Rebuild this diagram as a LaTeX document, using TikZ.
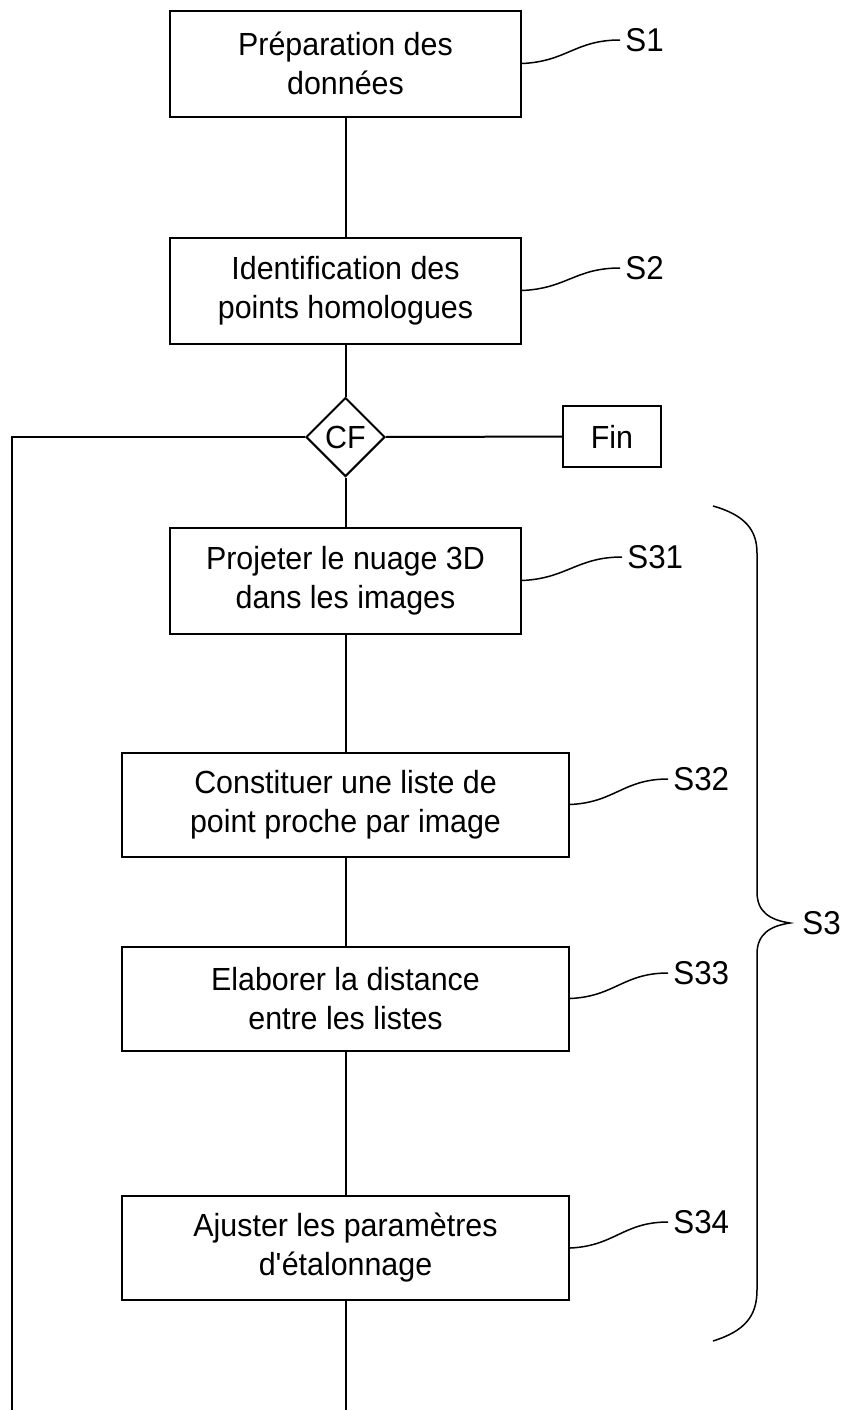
\documentclass[tikz,border=0pt]{standalone}
\usepackage{fontspec}
\setmainfont{Liberation Sans}[FakeStretch=0.95]
\usetikzlibrary{shapes.geometric}

\tikzset{
  stepbox/.style={draw, line width=1pt, align=center, inner sep=0pt,
    font=\fontsize{16}{19.5}\selectfont},
  smallbox/.style={stepbox, minimum width=175.5pt, minimum height=53pt},
  widebox/.style={stepbox, minimum width=223.5pt, minimum height=52pt},
  tag/.style={anchor=west, inner sep=2.5pt, font=\fontsize{16.5}{19}\selectfont},
  link/.style={line width=1pt},
  squiggle/.style={line width=0.75pt}
}

\begin{document}
\begin{tikzpicture}[x=0.5pt, y=-0.5pt]
        \useasboundingbox (0,0) rectangle (844,1410);

        % Steps
        \node[smallbox] (s1) at (345.5,63.5) {Préparation des\\données};
        \node[smallbox] (s2) at (345.5,290.5) {Identification des\\points homologues};
        \node[draw, diamond, line width=1pt, aspect=1, inner sep=0pt, minimum size=39.5pt,
          font=\fontsize{16}{19}\selectfont] (cf) at (345.5,437) {CF};
        \node[stepbox, minimum width=49pt, minimum height=30.5pt] (fin) at (612,436.5) {Fin};
        \node[smallbox] (s31) at (345.5,580.5) {Projeter le nuage 3D\\dans les images};
        \node[widebox] (s32) at (345.5,804.5) {Constituer une liste de\\point proche par image};
        \node[widebox] (s33) at (345.5,998.5) {Elaborer la distance\\entre les listes};
        \node[widebox] (s34) at (345.5,1248) {Ajuster les paramètres\\d\textquotesingle étalonnage};

        % Loose ends at the bottom
        \coordinate (down) at (345.5,1410);
        \coordinate (back) at (12,1410);

        % Flow
        \draw[link] (s1) -- (s2);
        \draw[link] (s2) -- (cf);
        \draw[link] (cf) -- (fin);
        \draw[link] (cf) -- (s31);
        \draw[link] (s31) -- (s32);
        \draw[link] (s32) -- (s33);
        \draw[link] (s33) -- (s34);
        \draw[link] (s34) -- (down);
        \draw[link] (cf.west) -| (back);

        % Step labels
        \node[tag] (t1) at (620,40) {S1};
        \node[tag] (t2) at (620,268) {S2};
        \node[tag] (t31) at (622,557) {S31};
        \node[tag] (t32) at (668,779) {S32};
        \node[tag] (t33) at (668,973) {S33};
        \node[tag] (t34) at (668,1222) {S34};
        \node[tag] (t3) at (797,923) {S3};
        \coordinate (cusp) at (790,923);

        \foreach \b/\t in {s1/t1, s2/t2, s31/t31, s32/t32, s33/t33, s34/t34}
          \draw[squiggle] (\b.east) .. controls +(45,-2) and +(-45,0) .. (\t.west);

        % Brace around S31..S34
        \draw[squiggle] (713,506) .. controls (745,515) and (757,530) .. (757,553)
          -- (757,892) .. controls (757,912) and (770,920) .. (cusp)
          .. controls (770,926) and (757,934) .. (757,954)
          -- (757,1290) .. controls (757,1316) and (745,1331) .. (713,1341);
    \end{tikzpicture}
\end{document}
